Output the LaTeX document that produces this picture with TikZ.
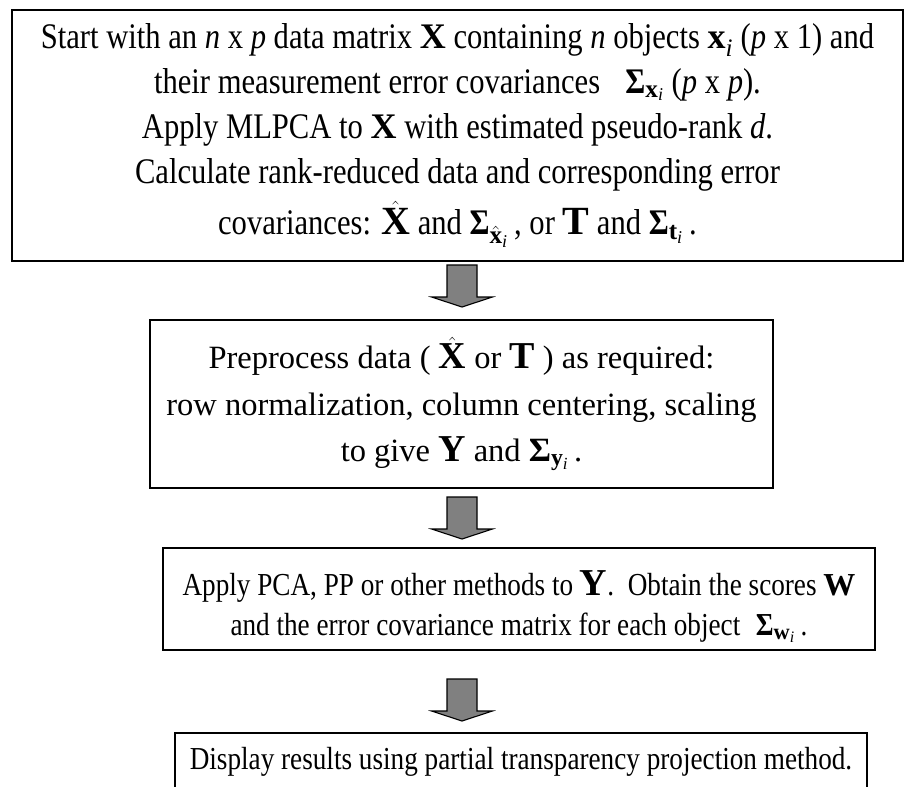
\documentclass[tikz,border=0pt]{standalone}
\usepackage{amsmath, amssymb}
\usepackage{fontspec}
\setmainfont{Liberation Serif}
\newfontfamily\narrowserif[FakeStretch=0.85]{Liberation Serif}
\usepackage{xcolor}
\usepackage{tikz}

\definecolor{arrowgray}{RGB}{128,128,128}

\newcommand{\Sig}{\textbf{Σ}}
\newcommand{\bigsym}[2]{{\fontsize{#1}{#1}\selectfont$#2$}}

\begin{document}
\begin{tikzpicture}[x=1pt, y=-1pt,
    stepbox/.style={draw, line width=2.6pt, align=center, inner sep=0pt},
    blockarrow/.style={draw, line width=1.1pt, fill=arrowgray, line join=miter}]
\useasboundingbox (0,0) rectangle (906,787);
\clip (0,0) rectangle (906,787);
\fill[white] (0,0) rectangle (906,787);

\node[stepbox, minimum width=891pt, minimum height=251pt,
      font=\narrowserif\fontsize{36}{45}\selectfont] (mlpca) at (457.5,135.5)
  {Start with an \textit{n} x \textit{p} data matrix $\mathbf{X}$ containing \textit{n} objects $\mathbf{x}_{\mathit{i}}$ (\textit{p} x 1) and\\
   their measurement error covariances \; $\Sig_{\mathbf{x}_{\mathit{i}}}$ (\textit{p} x \textit{p}).\\
   Apply MLPCA to $\mathbf{X}$ with estimated pseudo-rank \textit{d}.\\
   Calculate rank-reduced data and corresponding error\\[6pt]
   covariances: \bigsym{40}{\hat{\mathbf{X}}} and \bigsym{36}{\Sig_{\hat{\mathbf{x}}_{\mathit{i}}}}\,, or \bigsym{40}{\mathbf{T}} and \bigsym{36}{\Sig_{\mathbf{t}_{\mathit{i}}}}\,.};

\node[stepbox, minimum width=623pt, minimum height=168pt,
      font=\fontsize{32.5}{46.5}\selectfont] (prep) at (461.5,404)
  {Preprocess data ( \bigsym{38}{\hat{\mathbf{X}}} or \bigsym{38}{\mathbf{T}} ) as required:\\
   row normalization, column centering, scaling\\
   to give \bigsym{38}{\mathbf{Y}} and \bigsym{34}{\Sig_{\mathbf{y}_{\mathit{i}}}}\,.};

\node[stepbox, minimum width=712pt, minimum height=102pt,
      font=\narrowserif\fontsize{32}{40}\selectfont] (scores) at (519,599)
  {\rule{0pt}{40pt}Apply PCA, PP or other methods to \bigsym{38}{\mathbf{Y}}.\ \ Obtain the scores $\mathbf{W}$\\
   and the error covariance matrix for each object \;$\Sig_{\mathbf{w}_{\mathit{i}}}$\,.};

\node[stepbox, minimum width=692pt, minimum height=58pt,
      font=\narrowserif\fontsize{32}{40}\selectfont] (display) at (521,762)
  {Display results using partial transparency projection method.};

\coordinate (a1) at (462,265);
\coordinate (a2) at (462,497);
\coordinate (a3) at (462,679);
\foreach \a in {a1,a2,a3}
  \draw[blockarrow] (\a) ++(-15,0) -- ++(30,0) -- ++(0,32) -- ++(15.5,0)
    -- ++(-30.5,10) -- ++(-30.5,-10) -- ++(15.5,0) -- cycle;
\end{tikzpicture}
\end{document}
